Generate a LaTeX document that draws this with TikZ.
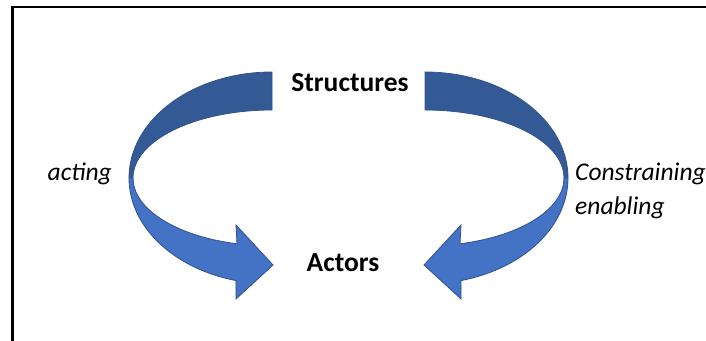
\documentclass[tikz,border=0pt]{standalone}
\usepackage{fontspec}
\setmainfont{Carlito}
\definecolor{backblue}{HTML}{345A96}
\definecolor{frontblue}{HTML}{4472C4}
\definecolor{edgeblue}{HTML}{2F528F}
\tikzset{
    backband/.style={fill=backblue, draw=edgeblue, line width=0.8pt, line join=round},
    frontband/.style={fill=frontblue, draw=edgeblue, line width=0.8pt},
    bigword/.style={font=\fontsize{27.5}{34}\selectfont\bfseries, anchor=base, inner sep=0pt},
    sideword/.style={font=\fontsize{25.5}{34}\selectfont\itshape, inner sep=0pt}
}
% one twisted ribbon arrow, drawn for the left side
\newcommand\ribbonarrow{%
    \filldraw[backband] (272,268) arc[start angle=90, end angle=180, x radius=143, y radius=106]
        -- (133,162) arc[start angle=180, end angle=90, x radius=139, y radius=68] -- cycle;
    \filldraw[frontband] (129,162) arc[start angle=180, end angle=255.4, x radius=143, y radius=106]
        -- (236,41) -- (273,75) -- (236,115) -- (237,96.2)
        arc[start angle=255.4, end angle=180, x radius=139, y radius=68] -- cycle;
}

\begin{document}
\begin{tikzpicture}[x=1pt, y=1pt]
        \useasboundingbox (0,0) rectangle (706,340);
        \clip (0,0) rectangle (706,340);
        % Frame
        \draw[line width=2.2pt] (12.5,-20) -- (12.5,333) -- (740,333);

        % Arrows
        \ribbonarrow
        \begin{scope}[xshift=697pt, xscale=-1]
            \ribbonarrow
        \end{scope}

        % Labels
        \node[bigword] (structures) at (350,248) {Structures};
        \node[bigword] (actors) at (343,69) {Actors};
        \node[sideword, anchor=base east] (acting) at (112,159) {acting};
        \node[sideword, anchor=base west] (constraining) at (575,159) {Constraining};
        \node[sideword, anchor=base west] (enabling) at ([yshift=-34pt]constraining.base west) {enabling};
    \end{tikzpicture}
\end{document}
